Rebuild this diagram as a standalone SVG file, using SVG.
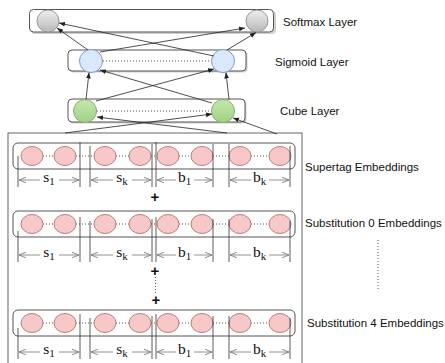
<svg xmlns="http://www.w3.org/2000/svg" width="445" height="363" viewBox="0 0 445 363">
<defs>
<style>
.lbox{fill:#fff;stroke:#555;stroke-width:1}
.shadow{fill:#d0d0d0;stroke:none}
.gray{fill:url(#gGray);stroke:#999;stroke-width:1}
.blue{fill:#dae8fc;stroke:#7e9cc8;stroke-width:1}
.green{fill:url(#gGreen);stroke:#82b366;stroke-width:1}
.pink{fill:#f6c8c8;stroke:#c47a7a;stroke-width:1}
.dot{stroke:#555;stroke-width:1;stroke-dasharray:1 2;fill:none}
.conn{stroke:#222;stroke-width:0.8;fill:none;marker-end:url(#ah)}
.tick{stroke:#333;stroke-width:0.8;fill:none}
.dim{stroke:#777;stroke-width:0.8;fill:none}
.lab{font-family:"Liberation Sans",Arial,sans-serif;font-size:11.5px;fill:#111}
.sym{font-family:"Liberation Serif","Times New Roman",serif;font-size:15.5px;fill:#111;text-anchor:middle}
.plus{font-family:"Liberation Sans",Arial,sans-serif;font-size:15px;font-weight:bold;fill:#111;text-anchor:middle}
</style>
<linearGradient id="gGray" x1="0" y1="0" x2="0" y2="1">
<stop offset="0" stop-color="#eeeeee"/><stop offset="1" stop-color="#b8b8b8"/>
</linearGradient>
<linearGradient id="gGreen" x1="0" y1="0" x2="0" y2="1">
<stop offset="0" stop-color="#c6e6b0"/><stop offset="1" stop-color="#9fd283"/>
</linearGradient>
<marker id="ah" viewBox="0 0 10 10" refX="10" refY="5" markerWidth="6" markerHeight="6" orient="auto" markerUnits="userSpaceOnUse">
<path d="M0,1 L10,5 L0,9 Z" fill="#222"/>
</marker>
<marker id="oa" viewBox="0 0 10 10" refX="10" refY="5" markerWidth="7" markerHeight="7" orient="auto-start-reverse" markerUnits="userSpaceOnUse">
<path d="M0,1 L10,5 L0,9" fill="none" stroke="#777" stroke-width="1.2"/>
</marker>
<g id="dims">
<line class="tick" x1="18" y1="0" x2="18" y2="31"/>
<line class="tick" x1="80" y1="-14" x2="80" y2="31"/>
<line class="tick" x1="90" y1="-10" x2="90" y2="31"/>
<line class="tick" x1="152" y1="-12" x2="152" y2="31"/>
<line class="tick" x1="156" y1="-14" x2="156" y2="31"/>
<line class="tick" x1="213" y1="-12" x2="213" y2="31"/>
<line class="tick" x1="229" y1="-12" x2="229" y2="31"/>
<line class="tick" x1="290" y1="-10" x2="290" y2="31"/>
<line class="dim" x1="19" y1="24" x2="40" y2="24" marker-start="url(#oa)"/>
<line class="dim" x1="59" y1="24" x2="79" y2="24" marker-end="url(#oa)"/>
<line class="dim" x1="91" y1="24" x2="113" y2="24" marker-start="url(#oa)"/>
<line class="dim" x1="132" y1="24" x2="151" y2="24" marker-end="url(#oa)"/>
<line class="dim" x1="157" y1="24" x2="176" y2="24" marker-start="url(#oa)"/>
<line class="dim" x1="194" y1="24" x2="212" y2="24" marker-end="url(#oa)"/>
<line class="dim" x1="230" y1="24" x2="251" y2="24" marker-start="url(#oa)"/>
<line class="dim" x1="269" y1="24" x2="289" y2="24" marker-end="url(#oa)"/>
<text class="sym" x="49" y="26">s<tspan font-size="11" dy="3">1</tspan></text>
<text class="sym" x="122" y="26">s<tspan font-size="11" dy="3">k</tspan></text>
<text class="sym" x="184.5" y="26">b<tspan font-size="11" dy="3">1</tspan></text>
<text class="sym" x="259.5" y="26">b<tspan font-size="11" dy="3">k</tspan></text>
</g>
<g id="row">
<rect x="13" y="-13" width="282" height="26" rx="5" class="lbox"/>
<line class="dot" x1="43" y1="0" x2="54" y2="0"/>
<line class="dot" x1="76" y1="0" x2="94" y2="0"/>
<line class="dot" x1="116" y1="0" x2="129" y2="0"/>
<line class="dot" x1="151" y1="0" x2="157" y2="0"/>
<line class="dot" x1="179" y1="0" x2="191" y2="0"/>
<line class="dot" x1="213" y1="0" x2="229" y2="0"/>
<line class="dot" x1="251" y1="0" x2="269" y2="0"/>
<ellipse class="pink" cx="32" cy="0" rx="11" ry="9.5"/>
<ellipse class="pink" cx="65" cy="0" rx="11" ry="9.5"/>
<ellipse class="pink" cx="105" cy="0" rx="11" ry="9.5"/>
<ellipse class="pink" cx="140" cy="0" rx="11" ry="9.5"/>
<ellipse class="pink" cx="168" cy="0" rx="11" ry="9.5"/>
<ellipse class="pink" cx="202" cy="0" rx="11" ry="9.5"/>
<ellipse class="pink" cx="240" cy="0" rx="11" ry="9.5"/>
<ellipse class="pink" cx="280" cy="0" rx="11" ry="9.5"/>
</g>
</defs>

<rect id="container" x="8" y="133" width="294" height="240" fill="#fff" stroke="#666" stroke-width="1"/>

<g id="softmax">
<rect class="shadow" x="31" y="11" width="245" height="23" rx="4"/>
<rect class="lbox" x="29.5" y="9.5" width="244" height="22.5" rx="4"/>
<circle class="gray" cx="48" cy="21" r="11"/>
<circle class="gray" cx="257" cy="21" r="11"/>
<text class="lab" x="283" y="26">Softmax Layer</text>
</g>

<g id="sigmoid">
<rect class="shadow" x="69.5" y="51.5" width="178" height="21" rx="4"/>
<rect class="lbox" x="68" y="50" width="178" height="21" rx="4"/>
<line class="dot" x1="103" y1="61" x2="211" y2="61"/>
<circle class="blue" cx="91" cy="61" r="11.5"/>
<circle class="blue" cx="223" cy="61" r="11.5"/>
<text class="lab" x="275" y="66">Sigmoid Layer</text>
</g>

<g id="cube">
<rect class="shadow" x="69.5" y="100.5" width="177" height="23" rx="4"/>
<rect class="lbox" x="68" y="99" width="177" height="23" rx="4"/>
<line class="dot" x1="97" y1="111" x2="211" y2="111"/>
<circle class="green" cx="85" cy="111" r="11.5"/>
<circle class="green" cx="223" cy="111" r="11.5"/>
<text class="lab" x="280" y="115">Cube Layer</text>
</g>

<g id="connectors">
<line class="conn" x1="88" y1="50" x2="57" y2="28"/>
<line class="conn" x1="214" y1="56" x2="59" y2="23"/>
<line class="conn" x1="100" y1="52" x2="245" y2="28"/>
<line class="conn" x1="227" y1="50" x2="256" y2="32.5"/>
<line class="conn" x1="86" y1="99.5" x2="89" y2="72.5"/>
<line class="conn" x1="96" y1="101" x2="214" y2="69"/>
<line class="conn" x1="212" y1="103" x2="100" y2="70"/>
<line class="conn" x1="229" y1="99.5" x2="226" y2="72.5"/>
<line class="conn" x1="65" y1="133" x2="212" y2="114"/>
<line class="conn" x1="227" y1="133" x2="97" y2="117"/>
<line class="conn" x1="277" y1="134" x2="233" y2="118"/>
</g>

<g id="supertag">
<use href="#row" x="0" y="156"/>
<use href="#dims" x="0" y="156"/>
<text class="lab" x="305" y="171">Supertag Embeddings</text>
</g>

<g id="subst0">
<use href="#row" x="0" y="224"/>
<use href="#dims" x="0" y="231"/>
<text class="lab" x="305" y="227">Substitution 0 Embeddings</text>
</g>

<g id="subst4">
<use href="#row" x="0" y="323"/>
<use href="#dims" x="0" y="328"/>
<text class="lab" x="307" y="327">Substitution 4 Embeddings</text>
</g>

<g id="operators">
<text class="plus" x="155" y="202">+</text>
<text class="plus" x="155" y="276">+</text>
<line class="dot" x1="155.5" y1="277" x2="155.5" y2="295"/>
<text class="plus" x="156" y="305">+</text>
<line class="dot" x1="378" y1="240" x2="378" y2="290"/>
</g>
</svg>
